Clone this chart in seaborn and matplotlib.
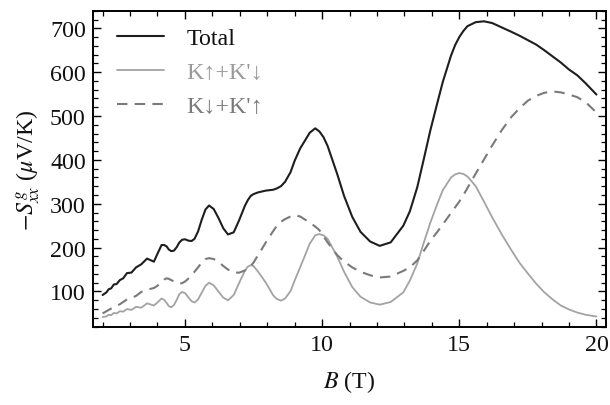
import matplotlib
matplotlib.use("Agg")
import matplotlib.pyplot as plt
import seaborn as sns
import pandas as pd
from matplotlib.ticker import MultipleLocator

B = [2.0, 2.14, 2.22, 2.31, 2.41, 2.51, 2.63, 2.75, 2.89, 3.05, 3.22, 3.41, 3.62, 3.87,
     4.0, 4.15, 4.24, 4.33, 4.41, 4.5, 4.6, 4.7, 4.8, 4.9, 5.01, 5.12, 5.24, 5.35, 5.48,
     5.61, 5.75, 5.88, 6.05, 6.22, 6.4, 6.57, 6.78, 6.98, 7.19, 7.3, 7.4, 7.5, 7.67, 7.95,
     8.22, 8.35, 8.5, 8.65, 8.85, 9.0, 9.2, 9.55, 9.75, 9.9, 10.05, 10.2, 10.55, 10.8,
     11.1, 11.4, 11.75, 12.1, 12.5, 12.96, 13.2, 13.47, 13.7, 13.94, 14.2, 14.4, 14.7,
     14.85, 15.0, 15.15, 15.3, 15.6, 15.9, 16.2, 16.55, 16.9, 17.2, 17.5, 17.8, 18.1,
     18.4, 18.7, 19.0, 19.3, 19.6, 20.0]

total = [92, 98, 105, 107, 116, 117, 126, 130, 142, 143, 155, 162, 175, 168,
         186, 206, 206, 203, 196, 192, 193, 201, 212, 218, 219, 216, 215, 220, 237,
         263, 287, 296, 288, 268, 244, 230, 235, 263, 296, 309, 318, 322, 326, 330,
         332, 335, 340, 350, 372, 398, 426, 462, 472, 465, 452, 432, 368, 318,
         270, 236, 214, 204, 212, 250, 283, 338, 400, 466, 530, 578, 638,
         662, 680, 694, 705, 714, 716, 712, 702, 692, 683, 673, 663, 650,
         636, 622, 606, 593, 575, 549]

k_up = [42, 43, 47, 46, 51, 50, 55, 54, 60, 58, 65, 63, 73, 68,
        75, 84, 81, 74, 67, 64, 69, 81, 94, 99, 96, 87, 78, 75, 82,
        97, 113, 120, 114, 100, 86, 80, 92, 120, 148, 157, 160, 158, 145, 120,
        91, 83, 79, 84, 101, 125, 155, 209, 228, 231, 228, 220, 180, 145,
        110, 88, 75, 70, 76, 98, 125, 164, 210, 256, 300, 331, 360,
        367, 370, 368, 362, 340, 305, 269, 230, 194, 165, 141, 118, 98,
        82, 68, 59, 52, 47, 43]

k_down = [50, 55, 58, 61, 64, 67, 71, 76, 82, 85, 90, 99, 104, 108,
          113, 122, 127, 130, 129, 126, 123, 120, 118, 119, 123, 129, 137, 145, 155,
          166, 174, 176, 174, 168, 158, 150, 143, 143, 148, 152, 158, 166, 183, 212,
          238, 250, 259, 265, 271, 274, 271, 257, 248, 240, 226, 212, 183, 168,
          155, 145, 137, 132, 134, 147, 155, 171, 192, 215, 236, 253, 279,
          292, 305, 320, 336, 369, 401, 433, 468, 498, 518, 535, 546, 553,
          556, 554, 549, 543, 532, 508]

labels = ["Total", "K\u2191+K'\u2193", "K\u2193+K'\u2191"]

sns.set_theme(style="ticks")
plt.rcParams["font.family"] = ["Liberation Serif", "DejaVu Serif"]
plt.rcParams["mathtext.fontset"] = "stix"
FS = 17.3

df = pd.DataFrame({"B": B, labels[0]: total, labels[1]: k_up, labels[2]: k_down})

fig = plt.figure(figsize=(6.1, 4.06), dpi=100)
ax = fig.add_axes([0.152, 0.191, 0.842, 0.780])

sns.lineplot(data=df, x="B", y=labels[0], ax=ax, color="#1e1e1e", lw=1.5, label=labels[0])
sns.lineplot(data=df, x="B", y=labels[1], ax=ax, color="#a3a3a3", lw=1.3, label=labels[1])
sns.lineplot(data=df, x="B", y=labels[2], ax=ax, color="#7a7a7a", lw=1.5,
             dashes=(5, 3.5), label=labels[2])

ax.set_xlim(1.64, 20.36)
ax.set_ylim(18, 740)
ax.xaxis.set_major_locator(MultipleLocator(5))
ax.xaxis.set_minor_locator(MultipleLocator(1))
ax.yaxis.set_major_locator(MultipleLocator(100))
ax.yaxis.set_minor_locator(MultipleLocator(20))
ax.tick_params(which="both", direction="in", top=True, right=True, color="black",
               labelsize=FS, labelcolor="#111111")
ax.tick_params(which="major", length=6, width=1.0, pad=5)
ax.tick_params(which="minor", length=3.5, width=0.9)
for s in ax.spines.values():
    s.set_color("black")
    s.set_linewidth(1.4)

ax.set_xlabel("$B$ (T)", fontsize=FS, color="#111111", labelpad=9)
ax.set_ylabel(r"$-S^{g}_{xx}$ ($\mu$V/K)", fontsize=FS, color="#111111", labelpad=6)

leg = ax.legend(loc="upper left", bbox_to_anchor=(0.005, 1.015), frameon=False,
                fontsize=FS, handlelength=1.95, handletextpad=0.95, labelspacing=0.5)
for t, c in zip(leg.get_texts(), ["#111111", "#9a9a9a", "#7a7a7a"]):
    t.set_color(c)

fig.savefig("out.png", dpi=100)
